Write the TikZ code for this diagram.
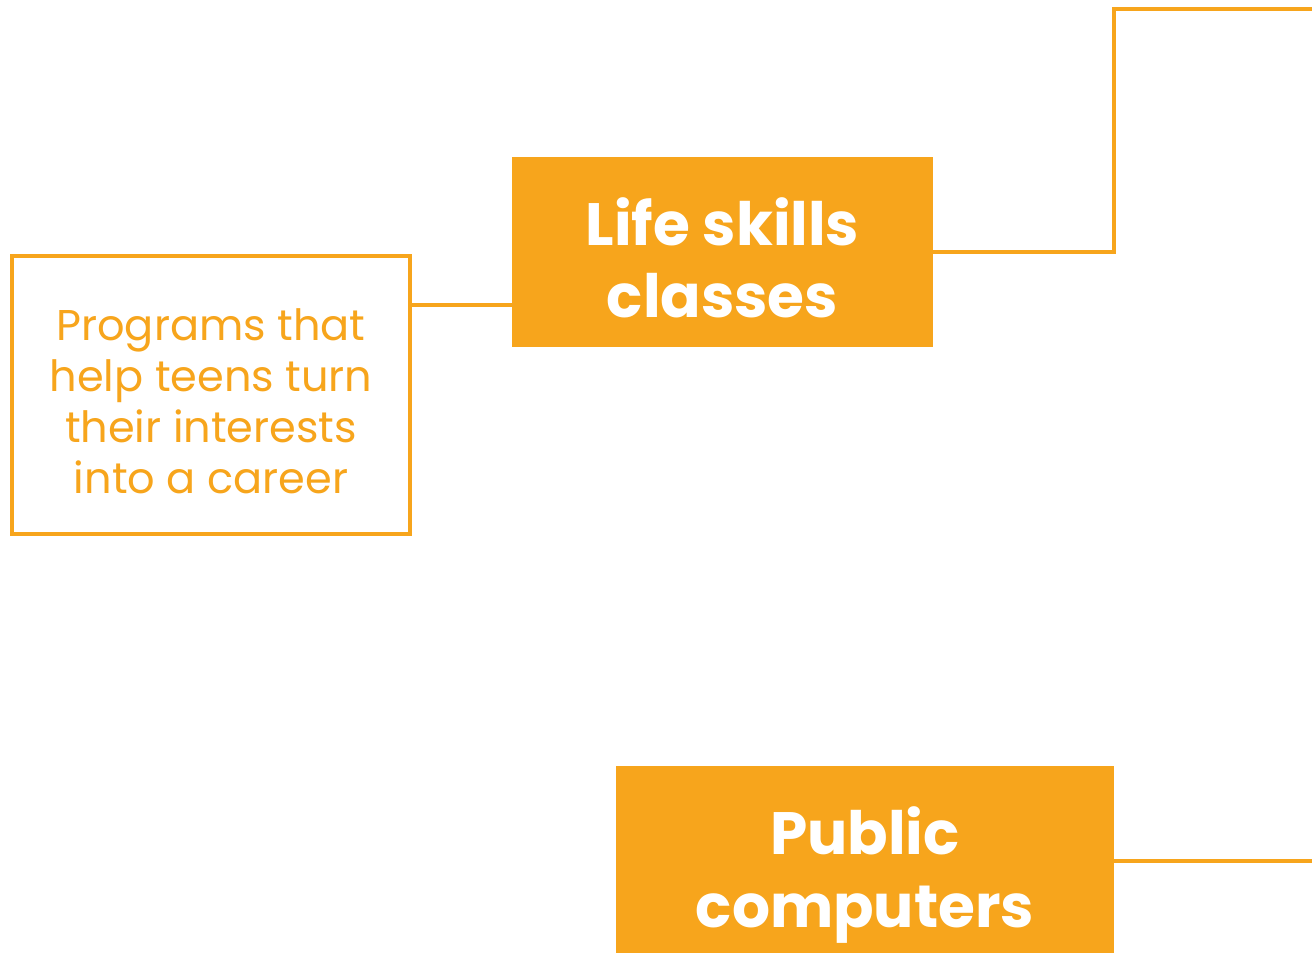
\documentclass[tikz,border=0pt]{standalone}
\usepackage{fontspec}
\setmainfont{Poppins}
\usepackage{tikz}
\definecolor{amber}{HTML}{F7A51C}

\begin{document}
\begin{tikzpicture}[
    softbox/.style={draw=amber, line width=2.3pt, fill=white,
        minimum width=7.96cm, minimum height=5.56cm},
    softtext/.style={text=amber, align=center,
        font=\fontsize{24.5}{29}\selectfont},
    solidbox/.style={fill=amber, minimum height=3.8cm},
    solidtext/.style={text=white, align=center,
        font=\fontsize{34}{41}\selectfont\bfseries},
    wire/.style={draw=amber, line width=2.3pt}
]
        \useasboundingbox (0,0) rectangle (26.24,19.04);
        \clip (0,0) rectangle (26.24,19.04);

        \node[softbox] (prog) at (4.22,11.14) {};
        \node[softtext] (progtxt) at ([yshift=-0.12cm]prog.center) {Programs that\\help teens turn\\their interests\\into a career};

        \node[solidbox, minimum width=8.42cm] (life) at (14.45,14.0) {};
        \node[solidtext] (lifetxt) at ([yshift=-0.11cm]life.center) {Life skills\\classes};

        \node[solidbox, minimum width=9.96cm] (pub) at (17.3,1.82) {};
        \node[solidtext] (pubtxt) at ([yshift=-0.28cm]pub.center) {Public\\computers};

        \coordinate (tap) at (0,12.94);
        \coordinate (bend) at (22.28,18.86);
        \coordinate (off1) at (26.6,18.86);
        \coordinate (off2) at (26.6,1.82);

        \draw[wire] (prog.east |- tap) -- (life.west |- tap);
        \draw[wire] (life.east) -- (bend |- life.east) -- (bend) -- (off1);
        \draw[wire] (pub.east) -- (off2);
    \end{tikzpicture}
\end{document}
